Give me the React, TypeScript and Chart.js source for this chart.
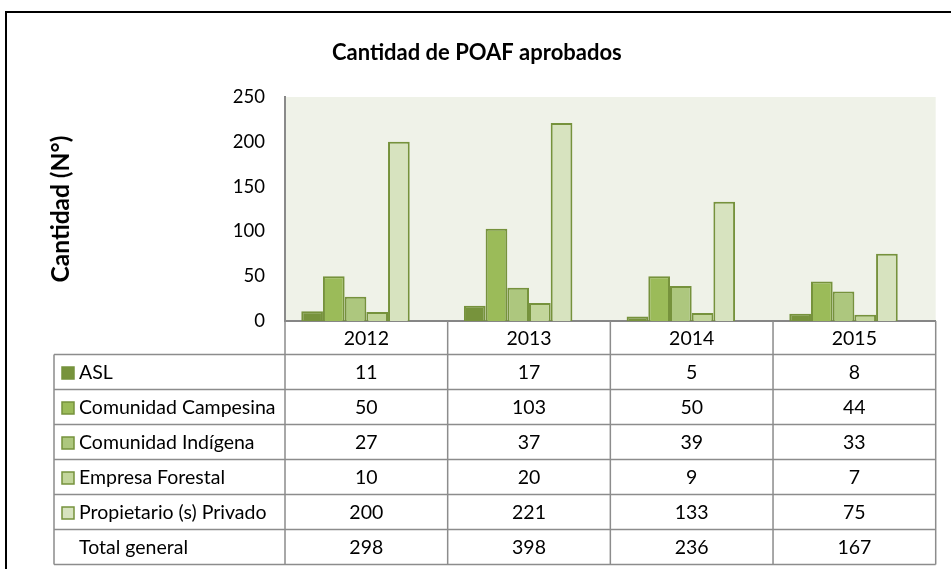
import React, { useEffect, useRef } from "react";
import { Chart, registerables } from "chart.js";

Chart.register(...registerables);

const categories = ["2012", "2013", "2014", "2015"];
const seriesNames = [
  "ASL",
  "Comunidad Campesina",
  "Comunidad Indígena",
  "Empresa Forestal",
  "Propietario (s) Privado",
];
const asl = [11, 17, 5, 8];
const campesina = [50, 103, 50, 44];
const indigena = [27, 37, 39, 33];
const forestal = [10, 20, 9, 7];
const privado = [200, 221, 133, 75];
const totalGeneral = [298, 398, 236, 167];
const totalLabel = "Total general";
const yTicks = [0, 50, 100, 150, 200, 250];

const fills = ["#77933C", "#9BBB59", "#ADC77E", "#C3D69B", "#D7E3BF"];
const borderCol = "#76923C";
const FONT = "Lato, 'Noto Sans', sans-serif";

const seriesValues = [asl, campesina, indigena, forestal, privado];

const framePlugin = {
  id: "frame",
  beforeDraw(chart: any) {
    const { ctx, chartArea } = chart;
    ctx.save();
    ctx.fillStyle = "#FFFFFF";
    ctx.fillRect(0, 0, chart.width, chart.height);
    ctx.fillStyle = "#EFF2E8";
    ctx.fillRect(chartArea.left, chartArea.top, chartArea.right - chartArea.left, chartArea.bottom - chartArea.top);
    ctx.strokeStyle = "#000000";
    ctx.lineWidth = 2;
    ctx.beginPath();
    ctx.moveTo(6, chart.height);
    ctx.lineTo(6, 12);
    ctx.lineTo(chart.width, 12);
    ctx.stroke();
    ctx.restore();
  },
};

const tablePlugin = {
  id: "dataTable",
  afterDraw(chart: any) {
    const { ctx, chartArea, scales } = chart;
    const xs = scales.x;
    const left = chartArea.left;
    const right = chartArea.right;
    const top = chartArea.bottom;
    const tableLeft = 54;
    const headerH = 33.5;
    const rowH = 35;
    const edges: number[] = [left];
    for (let i = 0; i < categories.length - 1; i++) {
      edges.push((xs.getPixelForValue(i) + xs.getPixelForValue(i + 1)) / 2);
    }
    edges.push(right);
    const rows = [...seriesNames, totalLabel];
    const rowVals = [...seriesValues, totalGeneral];
    const bottom = top + headerH + rowH * rows.length;

    ctx.save();
    ctx.strokeStyle = "#8C8C8C";
    ctx.lineWidth = 1.5;
    ctx.beginPath();
    edges.forEach((x, i) => {
      ctx.moveTo(x, i === 0 ? chartArea.top : top);
      ctx.lineTo(x, bottom);
    });
    ctx.moveTo(tableLeft, top + headerH);
    ctx.lineTo(tableLeft, bottom);
    for (let r = 0; r <= rows.length; r++) {
      const y = top + headerH + rowH * r;
      ctx.moveTo(tableLeft, y);
      ctx.lineTo(right, y);
    }
    ctx.stroke();

    ctx.fillStyle = "#000000";
    ctx.font = `19.5px ${FONT}`;
    ctx.textBaseline = "middle";
    ctx.textAlign = "center";
    categories.forEach((c, i) => {
      ctx.fillText(c, (edges[i] + edges[i + 1]) / 2, top + headerH / 2 + 1);
    });
    rows.forEach((name, r) => {
      const yc = top + headerH + rowH * r + rowH / 2 + 1;
      if (r < seriesNames.length) {
        ctx.fillStyle = fills[r];
        ctx.fillRect(62, yc - 6, 12, 12);
        ctx.strokeStyle = borderCol;
        ctx.lineWidth = 1.5;
        ctx.strokeRect(62, yc - 6, 12, 12);
      }
      ctx.fillStyle = "#000000";
      ctx.textAlign = "left";
      ctx.fillText(name, 79, yc);
      ctx.textAlign = "center";
      rowVals[r].forEach((v, i) => {
        ctx.fillText(String(v), (edges[i] + edges[i + 1]) / 2, yc);
      });
    });
    ctx.restore();
  },
};

export default function App() {
  const ref = useRef<HTMLCanvasElement | null>(null);
  useEffect(() => {
    if (!ref.current) return;
    const datasets: any[] = seriesValues.map((vals, i) => ({
      label: seriesNames[i],
      data: vals,
      backgroundColor: fills[i],
      borderColor: borderCol,
      borderWidth: 2,
      borderSkipped: "bottom",
    }));
    datasets.push({
      label: totalLabel,
      data: totalGeneral,
      backgroundColor: "rgba(0,0,0,0)",
      borderWidth: 0,
    });
    const chart = new Chart(ref.current, {
      type: "bar",
      data: { labels: categories, datasets },
      options: {
        animation: false,
        responsive: false,
        layout: { padding: { left: 18, right: 15.3, top: 0, bottom: 240 } },
        datasets: { bar: { categoryPercentage: 0.8, barPercentage: 1 } },
        plugins: {
          legend: { display: false },
          tooltip: { enabled: false },
          title: {
            display: true,
            text: "Cantidad de POAF aprobados",
            color: "#000000",
            font: { family: FONT, size: 22, weight: "bold", lineHeight: 1.2 },
            padding: { top: 40, bottom: 30.6 },
          },
        },
        scales: {
          x: {
            grid: { display: false },
            ticks: { display: false },
            border: { display: true, color: "#868686", width: 2 },
          },
          y: {
            min: 0,
            max: 250,
            afterBuildTicks: (s: any) => {
              s.ticks = yTicks.map((v) => ({ value: v }));
            },
            afterFit: (s: any) => {
              s.width = 267;
            },
            grid: { display: false, drawTicks: false },
            border: { display: true, color: "#868686", width: 2 },
            ticks: {
              color: "#000000",
              padding: 20,
              font: { family: FONT, size: 18.5 },
            },
            title: {
              display: true,
              text: "Cantidad (N°)",
              color: "#000000",
              font: { family: FONT, size: 24.5, weight: "bold", lineHeight: 1.2 },
              padding: { top: 28, bottom: 0 },
            },
          },
        },
      },
      plugins: [framePlugin, tablePlugin],
    });
    return () => chart.destroy();
  }, []);
  return (
    <div style={{ position: "absolute", left: 0, top: 0, width: 951, height: 569, background: "#fff" }}>
      <canvas ref={ref} width={951} height={569} />
    </div>
  );
}
